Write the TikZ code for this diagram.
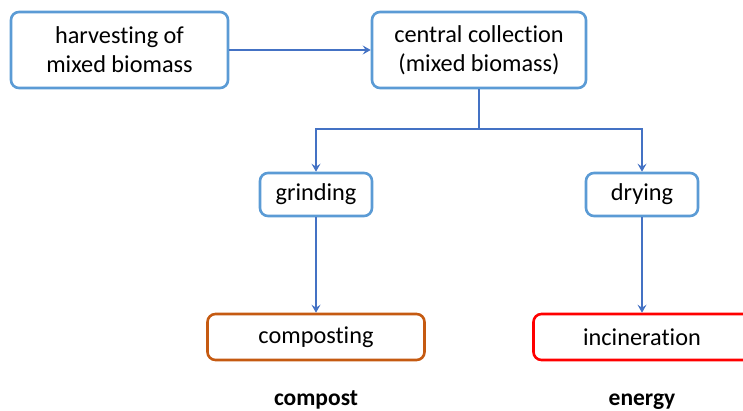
\documentclass[tikz,border=0pt]{standalone}
\usepackage{fontspec}
\setmainfont{Carlito}[Ligatures=NoCommon]
\usetikzlibrary{positioning,calc}
\usetikzlibrary{arrows.meta}
\definecolor{BoxBlue}{RGB}{91,155,213}
\definecolor{LinkBlue}{RGB}{68,114,196}
\definecolor{CompOrange}{RGB}{197,90,17}
\definecolor{FireRed}{RGB}{255,0,0}
\tikzset{
  box/.style={draw=BoxBlue,fill=white,line width=2.6pt,rounded corners=8pt,
    align=center,inner sep=0pt,font=\fontsize{24.3}{29}\selectfont},
  link/.style={draw=LinkBlue,line width=1.5pt,-{Stealth[length=8pt,width=9pt,inset=3pt]}},
  outcome/.style={font=\fontsize{23.5}{28}\selectfont\bfseries,anchor=base,inner sep=0pt},
}
\begin{document}
\begin{tikzpicture}[x=1pt,y=1pt]
\useasboundingbox (0,0) rectangle (743,-411);
\node[box,minimum width=217pt,minimum height=76pt] (harvest) at (119.5,-50) {harvesting of\\mixed biomass};
\node[box,minimum width=214pt,minimum height=76pt] (central) at (479,-50) {central collection\\(mixed biomass)};
\node[box,minimum width=112pt,minimum height=43pt] (grind) at (316,-194.5) {grinding};
\node[box,minimum width=112pt,minimum height=43pt] (dry) at (642,-194.5) {drying};
\node[box,draw=CompOrange,minimum width=217pt,minimum height=46pt] (compost) at (316,-337) {composting};
\node[box,draw=FireRed,minimum width=217pt,minimum height=46pt] (incin) at (642,-337) {incineration};
\coordinate (split) at (479,-129);
\draw[link] (harvest) -- (central);
\draw[draw=LinkBlue,line width=1.5pt] (central) -- (split);
\draw[link] (split) -| (grind);
\draw[link] (split) -| (dry);
\draw[link] (grind) -- (compost);
\draw[link] (dry) -- (incin);
\node[outcome] (compostout) at (316,-405) {compost};
\node[outcome] (energyout) at (642,-405) {energy};
\end{tikzpicture}
\end{document}
